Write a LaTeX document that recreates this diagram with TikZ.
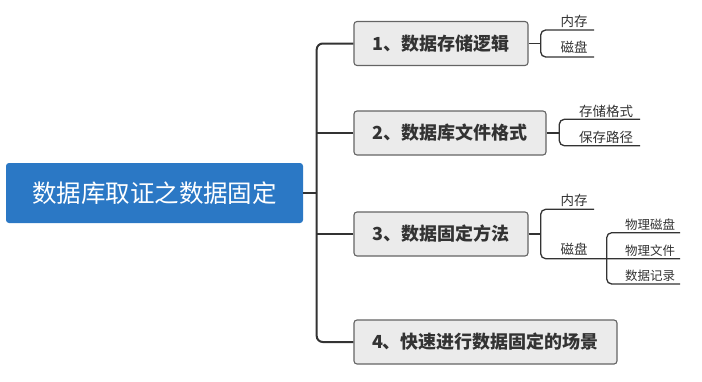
\documentclass[tikz,border=0pt]{standalone}
\usepackage{fontspec}
\setmainfont{Noto Sans CJK SC}
\definecolor{rootblue}{RGB}{43,120,197}
\definecolor{boxfill}{RGB}{235,235,235}
\definecolor{boxdraw}{RGB}{100,100,100}
\definecolor{linecol}{RGB}{51,51,51}
\tikzset{
  rootbox/.style={fill=rootblue, rounded corners=3pt, minimum width=297pt, minimum height=60pt, inner sep=0pt, text=white, font=\fontsize{24.5}{25}\selectfont},
  branchbox/.style={fill=boxfill, draw=boxdraw, line width=1.1pt, rounded corners=3pt, minimum height=44pt, inner sep=0pt, text=linecol, font=\fontsize{18}{20}\selectfont\bfseries},
  leaf/.style={inner sep=0pt, text=linecol, font=\fontsize{13.5}{14}\selectfont},
  leafs/.style={inner sep=0pt, text=linecol, font=\fontsize{12.5}{13}\selectfont},
  mainline/.style={draw=linecol, line width=2pt, rounded corners=6pt},
  subline/.style={draw=linecol, line width=1.3pt, rounded corners=5pt},
}
\begin{document}
\begin{tikzpicture}[x=1pt,y=-1pt]
\useasboundingbox (0,0) rectangle (702,381);
% root and branches
\node[rootbox] (root) at (154.5,193) {数据库取证之数据固定};
\node[branchbox, minimum width=174pt] (b1) at (441,43.5) {1、数据存储逻辑};
\node[branchbox, minimum width=192pt] (b2) at (450,133) {2、数据库文件格式};
\node[branchbox, minimum width=174pt] (b3) at (441,234) {3、数据固定方法};
\node[branchbox, minimum width=263pt] (b4) at (485.5,342) {4、快速进行数据固定的场景};
% trunk
\coordinate (t1) at (316.7,43.5);
\coordinate (t4) at (316.7,342);
\coordinate (tr) at (316.7,193);
\draw[mainline] (b1.west) -- (t1) -- (t4) -- (b4.west);
\draw[mainline] (root.east) -- (tr);
\draw[mainline] (b2.west) -- (b2.west -| tr);
\draw[mainline] (b3.west) -- (b3.west -| tr);
% leaves
\node[leaf] (l11) at (574,21.5) {内存};
\node[leaf] (l12) at (574,47.5) {磁盘};
\node[leaf] (l21) at (606,111) {存储格式};
\node[leaf] (l22) at (606,137) {保存路径};
\node[leaf] (l31) at (574,200.5) {内存};
\node[leaf] (l32) at (574,249) {磁盘};
\node[leafs] (l41) at (650,225) {物理磁盘};
\node[leafs] (l42) at (650,250.5) {物理文件};
\node[leafs] (l43) at (650,276) {数据记录};
% branch 1 bracket
\coordinate (k1) at (540.7,43.5);
\draw[subline] (b1.east) -- (k1);
\draw[subline] (594,30) -- (540.7,30) -- (540.7,57) -- (594,57);
% branch 2 bracket
\coordinate (k2) at (559.3,133);
\draw[subline] (b2.east) -- (k2);
\draw[subline] (640,119.3) -- (559.3,119.3) -- (559.3,145.7) -- (640,145.7);
% branch 3 bracket
\coordinate (k3) at (540.7,234);
\draw[subline] (b3.east) -- (k3);
\draw[subline] (594,209.3) -- (540.7,209.3) -- (540.7,258.7) -- (680,258.7);
% disk sub-bracket
\draw[subline] (680,232.7) -- (606.7,232.7) -- (606.7,284) -- (680,284);
\end{tikzpicture}
\end{document}
